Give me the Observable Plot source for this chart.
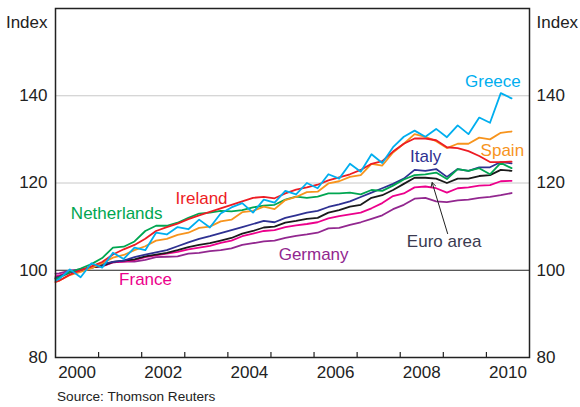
<!DOCTYPE html>
<html><head><meta charset="utf-8">
<script src="https://cdn.jsdelivr.net/npm/d3@7"></script>
<script src="https://cdn.jsdelivr.net/npm/@observablehq/plot@0.6"></script>
<style>
body{margin:0;background:#fff;font-family:Arial,"Liberation Sans",sans-serif;}
#chart{width:580px;}
.caption{font-size:13.6px;line-height:16px;color:#222;margin:4px 0 0 57px;}
</style></head><body>
<div id="chart"></div>
<script>
// Observation months (monthly index sampled quarterly)
const periods = ["2000-01",
 "2000-02","2000-05","2000-08","2000-11",
 "2001-02","2001-05","2001-08","2001-11",
 "2002-02","2002-05","2002-08","2002-11",
 "2003-02","2003-05","2003-08","2003-11",
 "2004-02","2004-05","2004-08","2004-11",
 "2005-02","2005-05","2005-08","2005-11",
 "2006-02","2006-05","2006-08","2006-11",
 "2007-02","2007-05","2007-08","2007-11",
 "2008-02","2008-05","2008-08","2008-11",
 "2009-02","2009-05","2009-08","2009-11",
 "2010-02","2010-05","2010-08"];

const greece = [97.6, 98.0,100.2,98.4,101.6, 100.6,104.0,102.6,105.2, 104.6,108.6,108.2,109.9, 109.4,111.6,109.8,113.0, 114.4,115.4,113.2,116.2, 115.5,118.2,117.4,120.0, 118.8,122.0,121.0,124.4, 122.6,126.6,124.6,128.2, 130.6,132.0,130.6,132.4, 130.5,133.2,131.2,135.0, 133.8,140.6,139.4];
const spain = [97.3, 97.6,98.9,99.6,100.5, 101.6,102.9,103.5,104.6, 105.5,106.8,107.2,108.1, 108.6,109.7,110.0,111.2, 111.6,113.3,113.6,114.6, 114.0,116.1,116.8,117.9, 118.0,119.9,120.4,121.4, 121.8,124.4,124.0,127.0, 129.0,131.2,130.6,129.6, 128.0,129.0,129.0,130.4, 130.0,131.5,131.8];
const ireland = [97.3, 97.6,99.0,100.0,100.9, 101.9,103.6,104.8,105.8, 107.2,109.0,109.9,110.7, 111.7,112.6,113.4,114.2, 115.0,115.8,116.6,116.8, 116.5,117.6,118.5,119.0, 119.6,120.6,121.3,122.0, 123.0,124.4,125.0,127.2, 129.0,130.2,130.2,129.8, 128.2,128.0,127.3,126.2, 124.8,124.8,124.9];
const netherlands = [97.9, 98.3,99.6,100.4,101.4, 102.8,105.2,105.4,106.6, 109.0,110.2,110.2,110.9, 112.0,113.0,113.2,113.6, 113.5,113.8,114.4,114.8, 115.0,116.2,116.9,116.6, 116.9,117.6,117.6,117.8, 117.4,118.4,118.2,119.4, 120.8,121.8,122.0,122.4, 120.9,123.2,122.8,123.4, 122.0,124.6,123.4];
const italy = [98.2, 98.5,99.5,100.0,100.7, 101.4,101.9,102.2,103.0, 103.6,104.1,104.6,105.5, 106.4,107.2,107.8,108.5, 109.2,109.9,110.6,111.3, 111.0,112.0,112.6,113.2, 113.6,114.5,115.1,115.8, 116.8,117.8,118.8,119.8, 121.0,123.0,122.8,123.2, 121.4,123.2,122.8,123.6, 123.6,124.8,124.5];
const euroArea = [98.2, 98.5,99.5,100.0,100.6, 101.0,101.9,102.2,102.5, 103.2,103.6,104.0,104.6, 105.3,105.8,106.2,106.8, 107.4,108.4,109.0,109.8, 110.0,110.9,111.3,111.8, 112.0,113.2,113.8,114.6, 115.0,116.6,117.2,118.4, 119.8,121.2,121.2,121.0, 120.0,121.0,121.0,121.6, 121.8,123.0,122.8];
const france = [98.6, 98.8,99.7,100.1,100.7, 100.9,101.8,102.0,102.3, 103.0,103.4,103.8,104.2, 104.8,105.2,105.6,106.3, 106.8,107.8,108.4,109.0, 109.2,109.9,110.3,110.6, 111.0,111.9,112.4,112.8, 113.2,114.2,115.4,117.0, 117.6,119.0,119.2,118.8, 117.8,118.8,119.0,119.4, 119.5,120.4,120.5];
const germany = [99.2, 99.3,99.9,100.2,100.6, 101.0,101.8,102.0,102.0, 102.4,103.0,103.1,103.2, 103.8,104.0,104.4,104.6, 105.0,105.8,106.2,106.6, 106.8,107.4,107.9,108.2, 108.6,109.6,109.7,110.4, 111.0,111.8,112.6,114.0, 115.0,116.4,116.6,115.8, 115.6,116.0,116.2,116.6, 116.8,117.2,117.7];

const seriesNames = ["Germany","France","Euro area","Italy","Netherlands","Spain","Ireland","Greece"];
const seriesValues = [germany, france, euroArea, italy, netherlands, spain, ireland, greece];
const lineColors = ["#92278f","#ec008c","#1a1a1a","#2e3192","#00a651","#f7941d","#ed1c24","#00aeef"];

// Label annotations (year, index value, text)
const labelNames = ["Greece","Spain","Italy","Ireland","Netherlands","Euro area","Germany","France"];
const labelX = [2010.15, 2010.37, 2008.59, 2003.39, 2001.42, 2009.02, 2005.99, 2002.09];
const labelY = [143.3, 127.4, 126.1, 116.4, 113.0, 106.6, 103.6, 97.9];
const labelColors = ["#00aeef","#f7941d","#2e3192","#ed1c24","#00a651","#3a3a50","#92278f","#ec008c"];

const yTicks = [80, 100, 120, 140];
const gridValues = [120, 140];
const tickYears = [2001,2002,2003,2004,2005,2006,2007,2008,2009,2010];
const labelYears = [2000, 2002, 2004, 2006, 2008, 2010];
const euroArrow = [{x1: 2009.10, y1: 108.4, x2: 2008.74, y2: 120.1}];

const toYear = s => +s.slice(0,4) + (+s.slice(5,7) - 1) / 12;
const data = seriesNames.flatMap((name, i) =>
  seriesValues[i].map((v, j) => ({series: name, t: toYear(periods[j]), v})));
const labels = labelNames.map((name, i) => ({name, x: labelX[i], y: labelY[i], color: labelColors[i]}));

const font = 'Arial, "Liberation Sans", sans-serif';
const chart = Plot.plot({
  width: 580, height: 385,
  marginLeft: 55, marginRight: 51, marginTop: 8, marginBottom: 28,
  style: {fontFamily: font, fontSize: "17px", color: "#222", background: "#fff", overflow: "visible"},
  x: {domain: [2000, 2011]},
  y: {domain: [80, 160]},
  color: {domain: seriesNames, range: lineColors},
  marks: [
    Plot.ruleY(gridValues, {stroke: "#c8c8c8", strokeWidth: 1}),
    Plot.ruleY([100], {stroke: "#222", strokeWidth: 1}),
    Plot.line(data, {x: "t", y: "v", z: "series", stroke: "series", strokeWidth: 1.8, strokeLinejoin: "round"}),
    Plot.axisY(yTicks, {anchor: "left", tickSize: 0, tickPadding: 8, label: null, fontSize: 17}),
    Plot.axisY(yTicks, {anchor: "right", tickSize: 0, tickPadding: 7, label: null, fontSize: 17}),
    Plot.ruleX(tickYears, {x: d => d, y1: 80, y2: 80, insetTop: -5, stroke: "#222", strokeWidth: 1.2}),
    Plot.axisX(labelYears.map(d => d + 0.5), {anchor: "bottom", tickSize: 0, tickPadding: 8, tickFormat: d => String(Math.floor(d)), label: null, fontSize: 17}),
    Plot.frame({stroke: "#222", strokeWidth: 1.5}),
    Plot.text(["Index"], {frameAnchor: "top-left", textAnchor: "end", dx: -8, dy: 7, fontSize: 17, fill: "#222"}),
    Plot.text(["Index"], {frameAnchor: "top-right", textAnchor: "start", dx: 7, dy: 7, fontSize: 17, fill: "#222"}),
    Plot.arrow(euroArrow, {x1: "x1", y1: "y1", x2: "x2", y2: "y2", stroke: "#222", strokeWidth: 1, headLength: 7}),
    Plot.text(labels, {x: "x", y: "y", text: "name", fill: "color", fontSize: 17})
  ]
});
document.getElementById("chart").appendChild(chart);
const cap = document.createElement("div");
cap.className = "caption";
cap.textContent = "Source: Thomson Reuters";
document.getElementById("chart").appendChild(cap);
</script>
</body></html>
